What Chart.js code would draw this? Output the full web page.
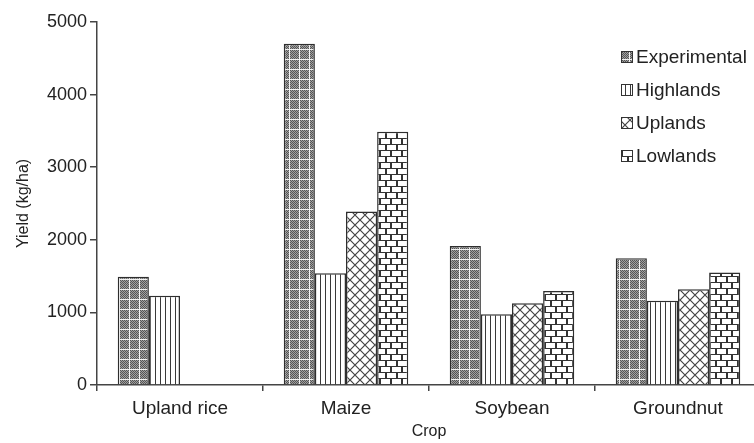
<!DOCTYPE html>
<html>
<head>
<meta charset="utf-8">
<script src="https://cdn.jsdelivr.net/npm/chart.js@4.4.1/dist/chart.umd.min.js"></script>
<style>
  html, body { margin: 0; padding: 0; background: #fff; overflow: hidden; width: 754px; height: 443px; }
  #wrap { width: 762px; height: 443px; }
</style>
</head>
<body>
<div id="wrap"><canvas id="c" width="762" height="443"></canvas></div>
<script>
const categories = ['Upland rice', 'Maize', 'Soybean', 'Groundnut'];
const seriesNames = ['Experimental', 'Highlands', 'Uplands', 'Lowlands'];
const experimental = [1490, 4700, 1915, 1745];
const highlands = [1230, 1540, 975, 1160];
const uplands = [null, 2390, 1125, 1320];
const lowlands = [null, 3490, 1295, 1550];
const yTicks = [0, 1000, 2000, 3000, 4000, 5000];

const canvas = document.getElementById('c');
const ctx = canvas.getContext('2d');

function makePattern(w, h, draw) {
  const t = document.createElement('canvas');
  t.width = w; t.height = h;
  const g = t.getContext('2d');
  draw(g, w, h);
  return ctx.createPattern(t, 'repeat');
}

const patExperimental = makePattern(10, 10, (g, w, h) => {
  g.fillStyle = '#a0a0a0'; g.fillRect(0, 0, w, h);
  g.fillStyle = '#555555';
  for (let x = 0; x < w; x++) for (let y = 0; y < h; y++) if ((x + y) % 2 === 0) g.fillRect(x, y, 1, 1);
  g.fillStyle = '#f2f2f2';
  g.fillRect(9, 0, 1, h); g.fillRect(0, 9, w, 1);
});
const patHighlands = makePattern(5, 4, (g, w, h) => {
  g.fillStyle = '#ffffff'; g.fillRect(0, 0, w, h);
  g.fillStyle = '#3a3a3a'; g.fillRect(0, 0, 1, h);
});
const patUplands = makePattern(10, 10, (g, w, h) => {
  g.fillStyle = '#ffffff'; g.fillRect(0, 0, w, h);
  g.strokeStyle = '#444444'; g.lineWidth = 1.2;
  g.beginPath();
  g.moveTo(0, 0); g.lineTo(w, h);
  g.moveTo(w, 0); g.lineTo(0, h);
  g.stroke();
});
const patLowlands = makePattern(22, 12, (g, w, h) => {
  g.fillStyle = '#ffffff'; g.fillRect(0, 0, w, h);
  g.fillStyle = '#333333';
  g.fillRect(0, 0, w, 1); g.fillRect(0, 6, w, 1);
  g.fillRect(0, 1, 2, 5); g.fillRect(11, 1, 2, 5);
  g.fillRect(5, 7, 2, 5); g.fillRect(16, 7, 2, 5);
});
const patterns = [patExperimental, patHighlands, patUplands, patLowlands];
const seriesData = [experimental, highlands, uplands, lowlands];

const FONT = "'Liberation Sans', Arial, Helvetica, sans-serif";
const TEXT = '#222222';
const AXIS = '#444444';

const legendPlugin = {
  id: 'customLegend',
  afterDraw(chart) {
    const g = chart.ctx;
    g.save();
    g.font = '19px ' + FONT;
    g.textBaseline = 'middle';
    g.textAlign = 'left';
    chart.data.datasets.forEach((ds, i) => {
      const y = 57 + 33 * i;
      g.fillStyle = ds.backgroundColor;
      g.fillRect(621, y - 6, 12, 12);
      g.strokeStyle = '#333';
      g.lineWidth = 1;
      g.strokeRect(621.5, y - 5.5, 11, 11);
      g.fillStyle = TEXT;
      g.fillText(ds.label, 636, y + 1);
    });
    g.restore();
  }
};

new Chart(canvas, {
  type: 'bar',
  data: {
    labels: categories,
    datasets: seriesNames.map((name, i) => ({
      label: name,
      data: seriesData[i],
      backgroundColor: patterns[i],
      borderColor: '#2e2e2e',
      borderWidth: 1.5,
      borderSkipped: 'bottom'
    }))
  },
  options: {
    responsive: false,
    animation: false,
    devicePixelRatio: 1,
    layout: { padding: { top: 22, right: 1, left: 0, bottom: 0 } },
    plugins: { legend: { display: false }, tooltip: { enabled: false } },
    datasets: { bar: { categoryPercentage: 0.75, barPercentage: 1.0 } },
    scales: {
      x: {
        offset: true,
        grid: { offset: true, drawOnChartArea: false, drawTicks: true, tickLength: 6, color: AXIS, lineWidth: 1.5 },
        border: { display: true, color: AXIS, width: 1.5 },
        ticks: { color: TEXT, font: { family: FONT, size: 19 }, padding: 6, maxRotation: 0 },
        title: { display: true, text: 'Crop', color: TEXT, font: { family: FONT, size: 16 }, padding: { top: 0, bottom: 2 } },
        afterFit(scale) { scale.height = 58; }
      },
      y: {
        min: 0, max: 5000,
        afterBuildTicks(scale) { scale.ticks = yTicks.map(v => ({ value: v })); },
        grid: { drawOnChartArea: false, drawTicks: true, tickLength: 7, color: AXIS, lineWidth: 1.5 },
        border: { display: true, color: AXIS, width: 1.5 },
        ticks: { color: TEXT, font: { family: FONT, size: 18 }, padding: 3, callback: v => String(v) },
        title: { display: true, text: 'Yield (kg/ha)', color: TEXT, font: { family: FONT, size: 16 }, padding: { top: 14, bottom: 0 } },
        afterFit(scale) { scale.width = 97; }
      }
    }
  },
  plugins: [legendPlugin]
});
</script>
</body>
</html>
